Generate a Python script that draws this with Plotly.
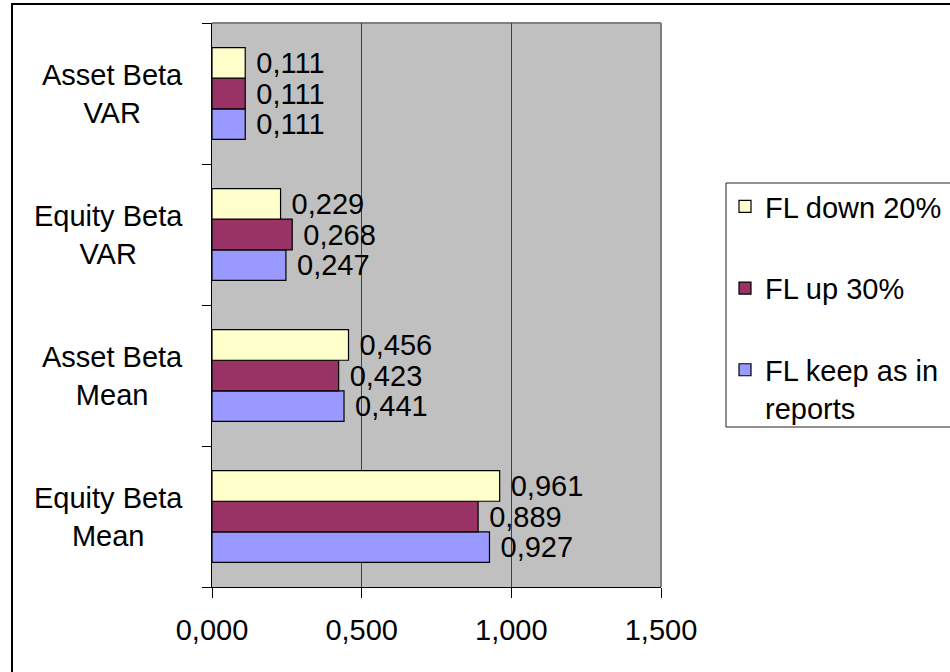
import plotly.graph_objects as go

# ---- data ----
categories = ["Equity Beta Mean", "Asset Beta Mean", "Equity Beta VAR", "Asset Beta VAR"]
category_labels = ["Equity Beta<br>Mean", "Asset Beta<br>Mean", "Equity Beta<br>VAR", "Asset Beta<br>VAR"]
series_names = ["FL keep as in<br>reports", "FL up 30%", "FL down 20%"]
fl_keep = [0.927, 0.441, 0.247, 0.111]
fl_up = [0.889, 0.423, 0.268, 0.111]
fl_down = [0.961, 0.456, 0.229, 0.111]
x_ticks = [0.0, 0.5, 1.0, 1.5]

# ---- styling ----
colors = ["#9999FF", "#993366", "#FFFFCC"]
FONT = "Arial, 'Liberation Sans', sans-serif"
FS = 29
W, H = 950, 672
L, R, T, B = 212, 289, 23, 85
PW, PH = W - L - R, H - T - B


def px(x):
    return (x - L) / PW


def py(y):
    return (H - B - y) / PH


fig = go.Figure()
for i, (name, vals) in enumerate(zip(series_names, [fl_keep, fl_up, fl_down])):
    fig.add_trace(go.Bar(
        y=categories, x=vals, orientation="h", name=name,
        marker=dict(color=colors[i], line=dict(color="black", width=1.2)),
        texttemplate="\u00a0%{x:.3f}", textposition="outside",
        constraintext="none", cliponaxis=False,
        textfont=dict(size=FS, color="black", family=FONT),
        legendrank=3 - i, legendgroup=f"g{i}",
    ))

annotations = []
for cat, lab in zip(categories, category_labels):
    annotations.append(dict(
        x=0, xref="paper", y=cat, yref="y", text=lab, showarrow=False,
        xanchor="right", yanchor="middle", xshift=-27, align="center",
        font=dict(size=FS, color="black", family=FONT),
    ))

shapes = [
    # plot-area frame (top and right)
    dict(type="line", xref="paper", yref="paper", x0=0, x1=1, y0=1, y1=1,
         line=dict(color="#808080", width=2), layer="below"),
    dict(type="line", xref="paper", yref="paper", x0=1, x1=1, y0=0, y1=1,
         line=dict(color="#808080", width=2), layer="below"),
    # legend frame
    dict(type="rect", xref="paper", yref="paper", x0=px(726), x1=px(975),
         y0=py(427), y1=py(183), line=dict(color="#222222", width=1),
         fillcolor="white", layer="below"),
    # outer chart border
    dict(type="rect", xref="paper", yref="paper", x0=px(12), x1=px(990),
         y0=py(700), y1=py(4), line=dict(color="black", width=2), layer="above"),
]

fig.update_layout(
    width=W, height=H,
    margin=dict(l=L, r=R, t=T, b=B, pad=0, autoexpand=False),
    paper_bgcolor="white", plot_bgcolor="#C0C0C0",
    separators=",.",
    font=dict(family=FONT, size=FS, color="black"),
    barmode="group", bargap=0.35, bargroupgap=0,
    showlegend=True,
    legend=dict(
        x=px(725), xanchor="left", y=py(181), yanchor="top",
        bgcolor="rgba(0,0,0,0)", borderwidth=0,
        font=dict(size=FS, family=FONT, color="black"),
        tracegroupgap=41, valign="top", itemclick=False,
    ),
    xaxis=dict(
        range=[0, 1.5], tickvals=x_ticks, tickformat=".3f",
        showgrid=True, gridcolor="#404040", gridwidth=1,
        showline=True, linecolor="black", linewidth=1,
        ticks="outside", ticklen=10, tickcolor="black", tickwidth=1,
        zeroline=False, ticklabelstandoff=7,
        tickfont=dict(size=FS, family=FONT, color="black"),
    ),
    yaxis=dict(
        categoryorder="array", categoryarray=categories,
        showticklabels=False, ticks="outside", tickson="boundaries",
        ticklen=9, tickcolor="black", tickwidth=1,
        showline=True, linecolor="black", linewidth=1,
        showgrid=False, zeroline=False,
    ),
    annotations=annotations,
    shapes=shapes,
)

fig.write_html("out.html")
